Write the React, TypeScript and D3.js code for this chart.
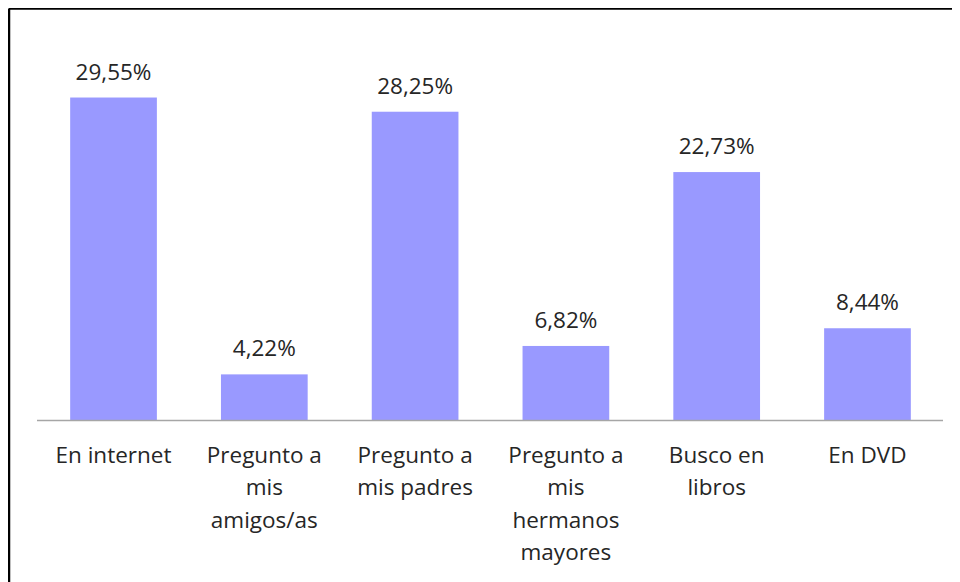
import React from "react";
import * as d3 from "d3";

const categories: string[] = [
  "En internet",
  "Pregunto a mis amigos/as",
  "Pregunto a mis padres",
  "Pregunto a mis hermanos mayores",
  "Busco en libros",
  "En DVD",
];
const categoryLines: string[][] = [
  ["En internet"],
  ["Pregunto a", "mis", "amigos/as"],
  ["Pregunto a", "mis padres"],
  ["Pregunto a", "mis", "hermanos", "mayores"],
  ["Busco en", "libros"],
  ["En DVD"],
];
const values: number[] = [29.55, 4.22, 28.25, 6.82, 22.73, 8.44];
const valueLabels: string[] = ["29,55%", "4,22%", "28,25%", "6,82%", "22,73%", "8,44%"];

const W = 960;
const H = 582;
const FONT = "'Open Sans', sans-serif";
const FS = 22.5;
const TEXT = "#262626";

export default function App() {
  const x = d3.scaleBand<string>().domain(categories).range([37, 944]).paddingInner(0.425).paddingOuter(0.22);
  const y = d3.scaleLinear().domain([0, 35]).range([420.5, 420.5 - 35 * 10.93]);
  const y0 = y(0);
  return (
    <svg width={W - 8} height={H - 8} style={{ display: "block" }}>
      <g transform="translate(-8,-8)">
        <rect x={0} y={0} width={W} height={H} fill="#fff" />
        <line x1={9} x2={W} y1={8.5} y2={8.5} stroke="#000" strokeWidth={2.5} />
        <line x1={9} x2={9} y1={8.5} y2={H} stroke="#000" strokeWidth={2.5} />
        {categories.map((c, i) => (
          <rect
            key={c}
            x={x(c)!}
            y={y(values[i])}
            width={x.bandwidth()}
            height={y0 - y(values[i])}
            fill="#9999ff"
          />
        ))}
        <line x1={37} x2={943} y1={y0} y2={y0} stroke="#a6a6a6" strokeWidth={1.5} />
        {categories.map((c, i) => (
          <text
            key={"v" + c}
            x={x(c)! + x.bandwidth() / 2}
            y={y(values[i]) - 18}
            textAnchor="middle"
            fontFamily={FONT}
            fontSize={FS}
            fill={TEXT}
          >
            {valueLabels[i]}
          </text>
        ))}
        {categories.map((c, i) => (
          <text
            key={"c" + c}
            textAnchor="middle"
            fontFamily={FONT}
            fontSize={FS}
            fill={TEXT}
          >
            {categoryLines[i].map((ln, j) => (
              <tspan key={j} x={x(c)! + x.bandwidth() / 2} y={463 + j * 32.3}>
                {ln}
              </tspan>
            ))}
          </text>
        ))}
      </g>
    </svg>
  );
}
